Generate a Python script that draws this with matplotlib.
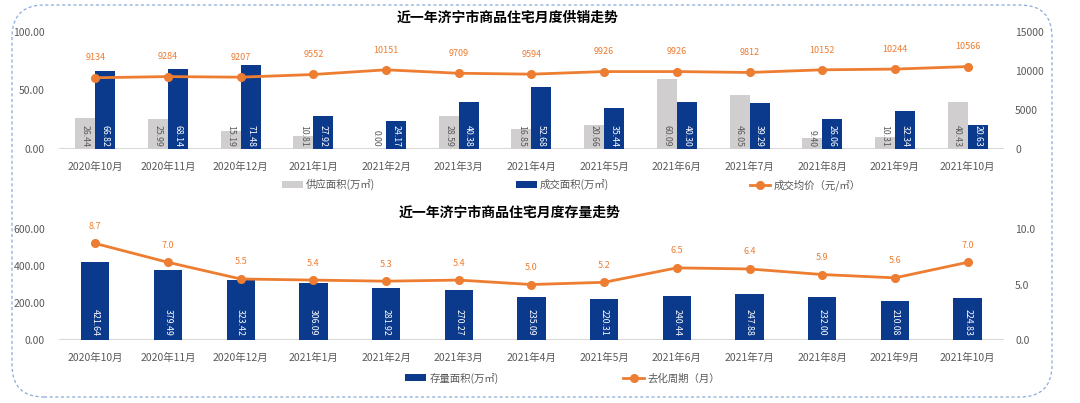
import matplotlib
matplotlib.use("Agg")
import matplotlib.pyplot as plt
from matplotlib.patches import FancyBboxPatch
from matplotlib.transforms import IdentityTransform
import numpy as np

plt.rcParams['font.family'] = ['Noto Sans CJK SC', 'DejaVu Sans']

months = ['2020年10月', '2020年11月', '2020年12月', '2021年1月', '2021年2月', '2021年3月',
          '2021年4月', '2021年5月', '2021年6月', '2021年7月', '2021年8月', '2021年9月', '2021年10月']
supply = [26.44, 25.99, 15.19, 10.81, 0.00, 28.59, 16.85, 20.66, 60.09, 46.05, 9.40, 10.31, 40.43]
sold = [66.82, 68.14, 71.48, 27.92, 24.17, 40.38, 52.68, 35.44, 40.30, 39.29, 26.06, 32.34, 20.63]
price = [9134, 9284, 9207, 9552, 10151, 9709, 9594, 9926, 9926, 9812, 10152, 10244, 10566]
stock = [421.64, 379.49, 323.42, 306.09, 281.92, 270.27, 235.09, 220.31, 240.44, 247.88, 232.00, 210.08, 224.83]
cycle = [8.7, 7.0, 5.5, 5.4, 5.3, 5.4, 5.0, 5.2, 6.5, 6.4, 5.9, 5.6, 7.0]

BLUE = '#0b3a8c'
GRAY = '#d0cece'
ORANGE = '#ed7d31'
TXT = '#595959'

fig = plt.figure(figsize=(10.8, 4.03), dpi=100)
x = np.arange(len(months))


def style_axes(ax, ax2):
    for a in (ax, ax2):
        for s in ('top', 'left', 'right', 'bottom'):
            a.spines[s].set_visible(False)
        a.tick_params(length=0, labelsize=7.5, labelcolor=TXT)
    ax.axhline(0, color='#d9d9d9', lw=1.5, zorder=1)
    ax.set_xlim(-0.5, len(months) - 0.5)
    ax.set_xticks(x)
    ax.set_xticklabels(months)
    ax.tick_params(axis='x', pad=9)
    ax.tick_params(axis='y', pad=10)
    ax2.tick_params(axis='y', pad=8)


# ---- top chart: supply / sales ----
ax = fig.add_axes([0.0546, 0.6303, 0.875, 0.2903])
ax2 = ax.twinx()
w = 0.275
b1 = ax.bar(x - w / 2, supply, w, color=GRAY, label='供应面积(万㎡)', zorder=2)
b2 = ax.bar(x + w / 2, sold, w, color=BLUE, label='成交面积(万㎡)', zorder=2)
ax.set_ylim(0, 100)
ax.set_yticks([0, 50, 100])
ax.set_yticklabels(['0.00', '50.00', '100.00'])
for i in range(len(months)):
    ax.annotate('%.2f' % supply[i], (x[i] - w / 2, 0), xytext=(0, 1.5), textcoords='offset points',
                rotation=270, ha='center', va='bottom', fontsize=6.3, color=TXT, zorder=3)
    ax.annotate('%.2f' % sold[i], (x[i] + w / 2, 0), xytext=(0, 1.5), textcoords='offset points',
                rotation=270, ha='center', va='bottom', fontsize=6.3, color='white', zorder=3)
l1, = ax2.plot(x, price, color=ORANGE, lw=2.0, marker='o', ms=5.5, label='成交均价（元/㎡）')
ax2.set_ylim(0, 15000)
ax2.set_yticks([0, 5000, 10000, 15000])
for i, v in enumerate(price):
    ax2.annotate(str(v), (x[i], v), xytext=(0, 11), textcoords='offset points',
                 ha='center', va='bottom', fontsize=6.5, color=ORANGE)
style_axes(ax, ax2)
fig.text(0.47, 0.955, '近一年济宁市商品住宅月度供销走势', ha='center', va='center',
         fontsize=10, fontweight='bold', color='black')
fig.legend(handles=[b1, b2, l1], loc='center', bbox_to_anchor=(0.529, 0.541), ncol=3,
           frameon=False, fontsize=7.5, columnspacing=13.5, handlelength=2, handletextpad=0.3,
           labelcolor=TXT)

# ---- bottom chart: stock / cycle ----
bx = fig.add_axes([0.0546, 0.1563, 0.875, 0.2754])
bx2 = bx.twinx()
b3 = bx.bar(x, stock, 0.39, color=BLUE, label='存量面积(万㎡)', zorder=2)
bx.set_ylim(0, 600)
bx.set_yticks([0, 200, 400, 600])
bx.set_yticklabels(['0.00', '200.00', '400.00', '600.00'])
for i, v in enumerate(stock):
    bx.annotate('%.2f' % v, (x[i], 0), xytext=(0, 3), textcoords='offset points',
                rotation=270, ha='center', va='bottom', fontsize=6.3, color='white', zorder=3)
l2, = bx2.plot(x, cycle, color=ORANGE, lw=2.0, marker='o', ms=5.5, label='去化周期（月）')
bx2.set_ylim(0, 10)
bx2.set_yticks([0, 5, 10])
bx2.set_yticklabels(['0.0', '5.0', '10.0'])
for i, v in enumerate(cycle):
    bx2.annotate('%.1f' % v, (x[i], v), xytext=(0, 9), textcoords='offset points',
                 ha='center', va='bottom', fontsize=6.5, color=ORANGE)
style_axes(bx, bx2)
fig.text(0.472, 1 - 213 / 403, '近一年济宁市商品住宅月度存量走势', ha='center', va='center',
         fontsize=10, fontweight='bold', color='black')
fig.legend(handles=[b3, l2], loc='center', bbox_to_anchor=(0.521, 0.062), ncol=2,
           frameon=False, fontsize=7.5, columnspacing=12, handlelength=2, handletextpad=0.3,
           labelcolor=TXT)

# dashed rounded frame
frame = FancyBboxPatch((12, 6), 1040, 392, boxstyle='round,pad=0,rounding_size=32',
                       transform=IdentityTransform(), fill=False, ec='#8eaadb',
                       lw=0.9, ls=(0, (2.5, 2)))
fig.patches.append(frame)

fig.savefig('out.png', dpi=100)
